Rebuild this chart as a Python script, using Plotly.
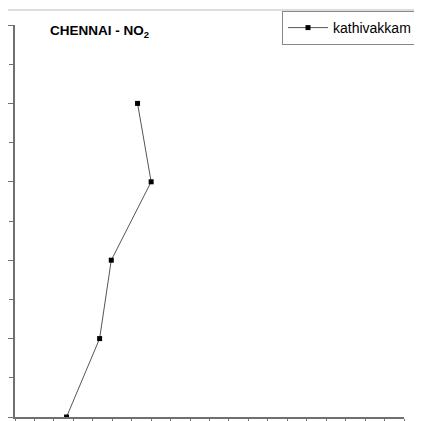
import plotly.graph_objects as go

# Data (axis units: x in minor-tick steps, y in major-tick steps)
series_name = "kathivakkam"
no2_values = [2.65, 4.35, 4.95, 7.0, 6.3]
levels = [0, 1, 2, 3, 4]

# The page body has an 8px margin, so the figure is sized/offset to compensate.
OFF = 8
W, H = 422 - OFF, 421 - OFF
L, T, R_EDGE, B_EDGE = 15 - OFF, 25 - OFF, 404 - OFF, 417 - OFF
PW, PH = R_EDGE - L, B_EDGE - T

def px_x(p):
    return (p - OFF - L) / PW

def px_y(p):
    return (B_EDGE - (p - OFF)) / PH

fig = go.Figure()
fig.add_trace(go.Scatter(
    x=no2_values, y=levels, mode="lines+markers", name=series_name,
    line=dict(color="#555555", width=1),
    marker=dict(symbol="square", size=5, color="black"),
))

axis_col = "#707070"
fig.update_layout(
    width=W, height=H,
    margin=dict(l=L, r=W - R_EDGE, t=T, b=H - B_EDGE, autoexpand=False),
    paper_bgcolor="white", plot_bgcolor="white",
    font=dict(family="Liberation Sans, Arial, sans-serif", color="black"),
    title=dict(text="<b>CHENNAI - NO<sub>2</sub></b>", x=(50 - OFF) / W, xanchor="left",
               y=1 - (30 - OFF) / H, yanchor="middle", font=dict(size=13.5, color="black")),
    showlegend=True,
    legend=dict(x=px_x(282), y=px_y(11), xanchor="left", yanchor="top",
                bordercolor="#888888", borderwidth=1, bgcolor="white",
                font=dict(size=14, color="black"), itemwidth=40,
                tracegroupgap=0),
    xaxis=dict(range=[0, 20], dtick=1, showgrid=False, zeroline=False,
               showline=True, linecolor=axis_col, linewidth=1.5,
               ticks="outside", ticklen=4, tickcolor=axis_col, tickwidth=1,
               showticklabels=False),
    yaxis=dict(range=[0, 5], dtick=1, showgrid=False, zeroline=False,
               showline=True, linecolor=axis_col, linewidth=1.5,
               ticks="outside", ticklen=7, tickcolor=axis_col, tickwidth=1,
               showticklabels=False,
               minor=dict(dtick=0.5, ticks="outside", ticklen=4,
                          tickcolor=axis_col, tickwidth=1, showgrid=False)),
)
# Top frame line of the original figure
fig.add_shape(type="line", xref="paper", yref="paper",
              x0=px_x(8), x1=px_x(422), y0=px_y(10), y1=px_y(10),
              line=dict(color="#bbbbbb", width=1))

fig.write_html("out.html")
